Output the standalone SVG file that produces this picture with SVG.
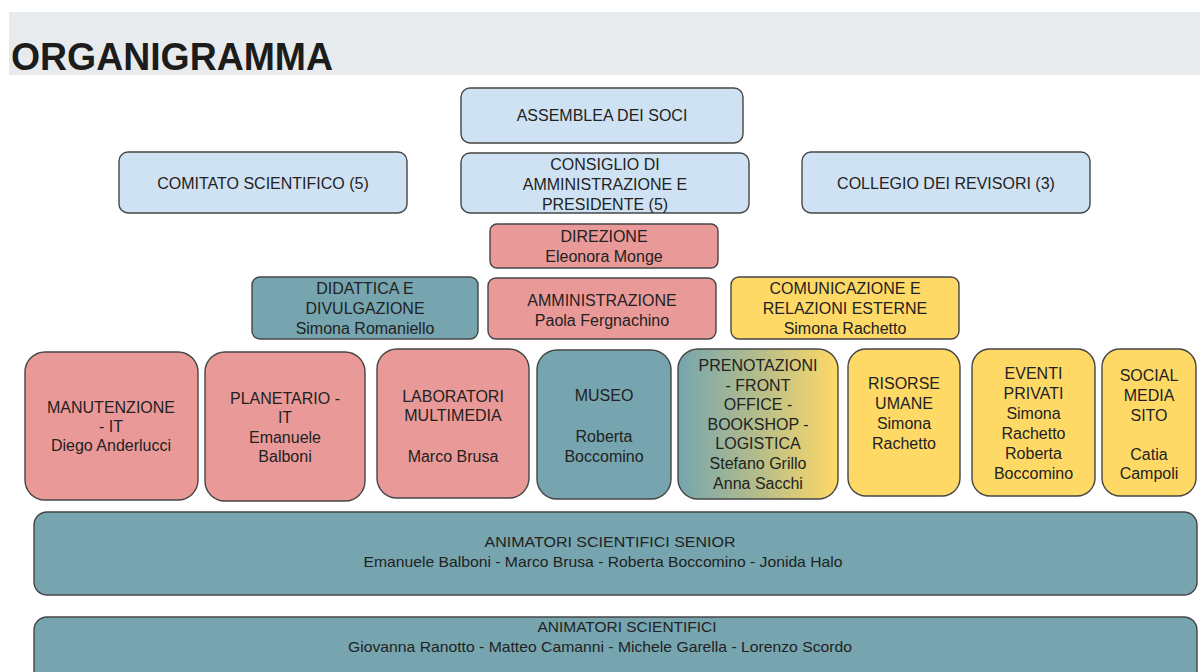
<svg xmlns="http://www.w3.org/2000/svg" width="1200" height="672" viewBox="0 0 1200 672">
<style>
  .box { stroke:#454545; stroke-width:1.4; }
  .lb { fill:#cfe2f3; }
  .pk { fill:#ea9999; }
  .tl { fill:#76a5af; }
  .yl { fill:#ffd966; }
  .gr { fill:url(#tealYellow); }
  text { font-family:"Liberation Sans", Arial, sans-serif; font-size:16px; fill:#222222; text-anchor:middle; }
  .sm { font-size:15px; }
  .title { font-family:"Liberation Sans", Arial, sans-serif; font-size:38px; font-weight:bold; fill:#1c1c1c; text-anchor:start; }
</style>
<defs>
  <linearGradient id="tealYellow" x1="0" y1="0" x2="1" y2="0">
    <stop offset="0" stop-color="#76a5af"/>
    <stop offset="0.5" stop-color="#b4bd8a"/>
    <stop offset="1" stop-color="#ffd966"/>
  </linearGradient>
</defs>
<rect x="0" y="0" width="1200" height="672" fill="#ffffff"/>
<g id="header">
  <rect x="9" y="12" width="1191" height="63" fill="#e8ebee"/>
  <text class="title" x="11" y="70" textLength="322" lengthAdjust="spacingAndGlyphs">ORGANIGRAMMA</text>
</g>
<g id="connectors"></g>

<g id="assemblea">
  <rect class="box lb" x="461" y="88" width="282" height="55" rx="9"/>
  <text x="602" y="121">ASSEMBLEA DEI SOCI</text>
</g>
<g id="comitato">
  <rect class="box lb" x="119" y="152" width="288" height="61" rx="9"/>
  <text x="263" y="189">COMITATO SCIENTIFICO (5)</text>
</g>
<g id="consiglio">
  <rect class="box lb" x="461" y="153" width="288" height="60" rx="9"/>
  <text x="605" y="170">CONSIGLIO DI</text>
  <text x="605" y="190">AMMINISTRAZIONE E</text>
  <text x="605" y="210">PRESIDENTE (5)</text>
</g>
<g id="collegio">
  <rect class="box lb" x="802" y="152" width="288" height="61" rx="9"/>
  <text x="946" y="189">COLLEGIO DEI REVISORI (3)</text>
</g>
<g id="direzione">
  <rect class="box pk" x="490" y="224" width="228" height="44" rx="7"/>
  <text x="604" y="242">DIREZIONE</text>
  <text x="604" y="262">Eleonora Monge</text>
</g>
<g id="didattica">
  <rect class="box tl" x="252" y="277" width="226" height="62" rx="8"/>
  <text x="365" y="294">DIDATTICA E</text>
  <text x="365" y="314">DIVULGAZIONE</text>
  <text x="365" y="334">Simona Romaniello</text>
</g>
<g id="amministrazione">
  <rect class="box pk" x="488" y="278" width="228" height="61" rx="8"/>
  <text x="602" y="306">AMMINISTRAZIONE</text>
  <text x="602" y="326">Paola Fergnachino</text>
</g>
<g id="comunicazione">
  <rect class="box yl" x="731" y="277" width="228" height="62" rx="8"/>
  <text x="845" y="294">COMUNICAZIONE E</text>
  <text x="845" y="314">RELAZIONI ESTERNE</text>
  <text x="845" y="334">Simona Rachetto</text>
</g>

<g id="manutenzione">
  <rect class="box pk" x="25" y="352" width="173" height="148" rx="20"/>
  <text x="111" y="413">MANUTENZIONE</text>
  <text x="111" y="432">- IT</text>
  <text x="111" y="451">Diego Anderlucci</text>
</g>
<g id="planetario">
  <rect class="box pk" x="205" y="352" width="160" height="149" rx="20"/>
  <text x="285" y="404">PLANETARIO -</text>
  <text x="285" y="423">IT</text>
  <text x="285" y="443">Emanuele</text>
  <text x="285" y="462">Balboni</text>
</g>
<g id="laboratori">
  <rect class="box pk" x="377" y="349" width="152" height="149" rx="20"/>
  <text x="453" y="402">LABORATORI</text>
  <text x="453" y="421">MULTIMEDIA</text>
  <text x="453" y="462">Marco Brusa</text>
</g>
<g id="museo">
  <rect class="box tl" x="537" y="350" width="134" height="149" rx="20"/>
  <text x="604" y="401">MUSEO</text>
  <text x="604" y="442">Roberta</text>
  <text x="604" y="462">Boccomino</text>
</g>
<g id="prenotazioni">
  <rect class="box gr" x="678" y="349" width="160" height="150" rx="20"/>
  <text x="758" y="371">PRENOTAZIONI</text>
  <text x="758" y="390.6">- FRONT</text>
  <text x="758" y="410.2">OFFICE -</text>
  <text x="758" y="429.8">BOOKSHOP -</text>
  <text x="758" y="449.4">LOGISTICA</text>
  <text x="758" y="469">Stefano Grillo</text>
  <text x="758" y="489">Anna Sacchi</text>
</g>
<g id="risorse">
  <rect class="box yl" x="848" y="349" width="112" height="147" rx="18"/>
  <text x="904" y="389">RISORSE</text>
  <text x="904" y="409">UMANE</text>
  <text x="904" y="429">Simona</text>
  <text x="904" y="449">Rachetto</text>
</g>
<g id="eventi">
  <rect class="box yl" x="972" y="349" width="123" height="147" rx="18"/>
  <text x="1033.5" y="379">EVENTI</text>
  <text x="1033.5" y="399">PRIVATI</text>
  <text x="1033.5" y="419">Simona</text>
  <text x="1033.5" y="439">Rachetto</text>
  <text x="1033.5" y="459">Roberta</text>
  <text x="1033.5" y="479">Boccomino</text>
</g>
<g id="social">
  <rect class="box yl" x="1102" y="349" width="94" height="147" rx="18"/>
  <text x="1149" y="381">SOCIAL</text>
  <text x="1149" y="401">MEDIA</text>
  <text x="1149" y="421">SITO</text>
  <text x="1149" y="460">Catia</text>
  <text x="1149" y="479">Campoli</text>
</g>

<g id="senior">
  <rect class="box tl" x="34" y="512" width="1163" height="83" rx="13"/>
  <text class="sm" x="610" y="547" textLength="251" lengthAdjust="spacingAndGlyphs">ANIMATORI SCIENTIFICI SENIOR</text>
  <text class="sm" x="603" y="567" textLength="479" lengthAdjust="spacingAndGlyphs">Emanuele Balboni - Marco Brusa - Roberta Boccomino - Jonida Halo</text>
</g>
<g id="animatori">
  <rect class="box tl" x="34" y="617" width="1163" height="75" rx="13"/>
  <text class="sm" x="627" y="632" textLength="179" lengthAdjust="spacingAndGlyphs">ANIMATORI SCIENTIFICI</text>
  <text class="sm" x="600" y="652" textLength="504" lengthAdjust="spacingAndGlyphs">Giovanna Ranotto - Matteo Camanni - Michele Garella - Lorenzo Scordo</text>
</g>
</svg>
